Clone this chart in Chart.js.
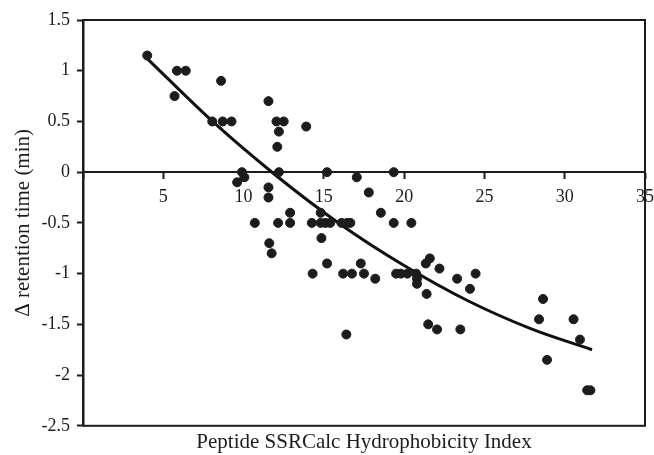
<!DOCTYPE html>
<html>
<head>
<meta charset="utf-8">
<script src="https://cdn.jsdelivr.net/npm/chart.js@4/dist/chart.umd.min.js"></script>
<style>
  html, body { margin: 0; padding: 0; background: #fff; }
  #wrap { width: 654px; height: 455px; }
</style>
</head>
<body>
<div id="wrap"><canvas id="grafik"></canvas></div>
<script>
// peptide hydrophobicity index vs delta retention time
const hydroIndex = [
  4.0, 5.7, 5.85, 6.4, 8.05, 8.6, 8.7, 9.25, 9.6, 9.9,
  10.05, 10.7, 11.55, 11.55, 11.55, 11.6, 11.75, 12.05, 12.1, 12.2,
  12.2, 12.15, 12.5, 12.9, 12.9, 13.9, 14.25, 14.3, 14.8, 14.8,
  14.85, 15.1, 15.2, 15.2, 15.4, 16.1, 16.2, 16.4, 16.45, 16.65,
  16.75, 17.05, 17.3, 17.5, 17.8, 18.2, 18.55, 19.35, 19.35, 19.5,
  19.8, 20.2, 20.45, 20.75, 20.8, 20.8, 21.35, 21.4, 21.5, 21.6,
  22.05, 22.2, 23.3, 23.5, 24.1, 24.45, 28.4, 28.65, 28.9, 30.55,
  30.95, 31.4, 31.6
];
const deltaRT = [
  1.15, 0.75, 1.0, 1.0, 0.5, 0.9, 0.5, 0.5, -0.1, 0.0,
  -0.05, -0.5, 0.7, -0.15, -0.25, -0.7, -0.8, 0.5, 0.25, 0.4,
  0.0, -0.5, 0.5, -0.4, -0.5, 0.45, -0.5, -1.0, -0.4, -0.5,
  -0.65, -0.5, -0.9, 0.0, -0.5, -0.5, -1.0, -1.6, -0.5, -0.5,
  -1.0, -0.05, -0.9, -1.0, -0.2, -1.05, -0.4, 0.0, -0.5, -1.0,
  -1.0, -1.0, -0.5, -1.0, -1.05, -1.1, -0.9, -1.2, -1.5, -0.85,
  -1.55, -0.95, -1.05, -1.55, -1.15, -1.0, -1.45, -1.25, -1.85, -1.45,
  -1.65, -2.15, -2.15
];

// trend curve
const trendX = [4, 8, 12, 16, 20, 24, 28, 31.7];
const trendY = [1.12, 0.51, -0.03, -0.51, -0.92, -1.27, -1.55, -1.75];

const serif = "'Liberation Serif', 'Times New Roman', serif";
const ink = "#1c1c1c";

const boxPlugin = {
  id: "box",
  afterDraw(c) {
    const a = c.chartArea;
    const ctx = c.ctx;
    ctx.save();
    ctx.strokeStyle = ink;
    ctx.lineWidth = 2;
    ctx.strokeRect(a.left, a.top, a.right - a.left, a.bottom - a.top);
    ctx.restore();
  }
};

new Chart(document.querySelector("#grafik"), {
  type: "scatter",
  data: {
    datasets: [
      {
        label: "peptides",
        data: hydroIndex.map((x, i) => ({ x: x, y: deltaRT[i] })),
        backgroundColor: ink,
        borderColor: ink,
        pointRadius: 4.5,
        pointHoverRadius: 4.5
      },
      {
        label: "trend",
        data: trendX.map((x, i) => ({ x: x, y: trendY[i] })),
        showLine: true,
        borderColor: "#111",
        borderWidth: 3,
        pointRadius: 0,
        cubicInterpolationMode: "monotone",
        fill: false
      }
    ]
  },
  options: {
    responsive: true,
    maintainAspectRatio: false,
    animation: false,
    layout: { padding: { top: 20, right: 9, left: 0, bottom: 0 } },
    plugins: { legend: { display: false }, tooltip: { enabled: false } },
    scales: {
      x: {
        type: "linear",
        position: { y: 0 },
        min: 0,
        max: 35,
        afterFit: (s) => {
          s.height = 0;
          s.paddingLeft = 0;
          s.paddingRight = 0;
        },
        grid: { drawOnChartArea: false, tickLength: 6, tickWidth: 2, color: ink },
        border: { color: ink, width: 2 },
        ticks: {
          stepSize: 5,
          padding: 8,
          color: ink,
          font: { family: serif, size: 18 },
          callback: (v) => (v === 0 ? "" : String(v))
        }
      },
      xt: {
        type: "linear",
        axis: "x",
        position: "bottom",
        min: 0,
        max: 35,
        grid: { display: false, drawTicks: false },
        border: { display: false },
        ticks: { display: false },
        title: {
          display: true,
          text: "Peptide SSRCalc Hydrophobicity Index",
          color: ink,
          font: { family: serif, size: 21 },
          padding: { top: 4, bottom: 0 }
        }
      },
      y: {
        type: "linear",
        position: "left",
        min: -2.5,
        max: 1.5,
        afterFit: (s) => { s.width = 83; },
        grid: { drawOnChartArea: false, tickLength: 6, tickWidth: 2, color: ink },
        border: { color: ink, width: 2.5 },
        ticks: {
          stepSize: 0.5,
          padding: 7,
          color: ink,
          font: { family: serif, size: 18 },
          callback: (v) => String(v)
        },
        title: {
          display: true,
          text: "Δ retention time (min)",
          color: ink,
          font: { family: serif, size: 21 },
          padding: { top: 11, bottom: 0 }
        }
      }
    }
  },
  plugins: [boxPlugin]
});
</script>
</body>
</html>
